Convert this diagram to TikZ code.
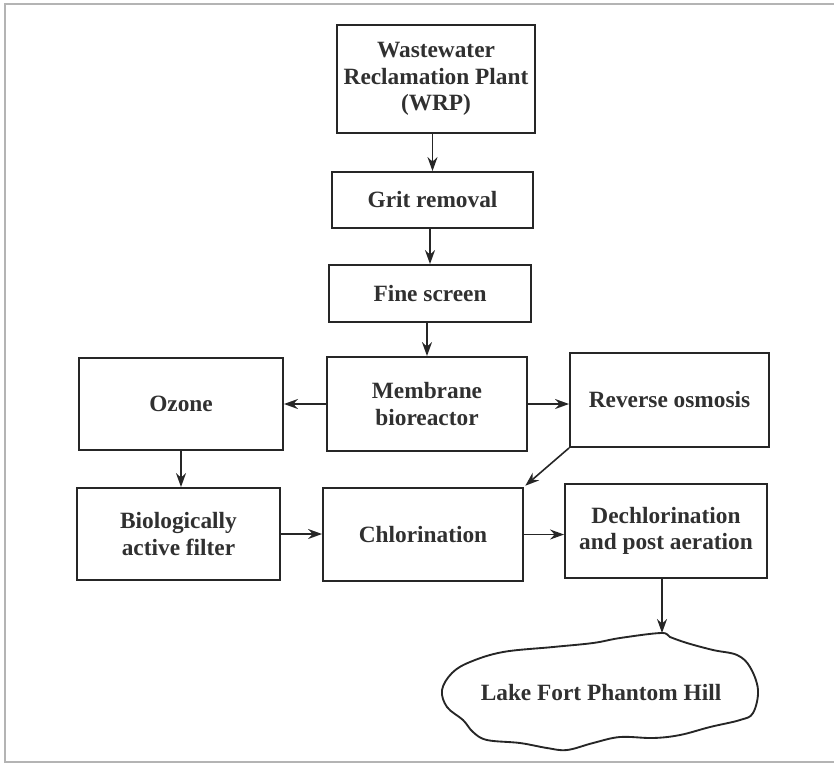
\documentclass[tikz,border=0pt]{standalone}
\usepackage{fontspec}
\setmainfont{Liberation Serif}
\usetikzlibrary{arrows.meta}
\definecolor{ink}{HTML}{262626}
\definecolor{textink}{HTML}{303030}
\definecolor{framegray}{HTML}{B4B4B4}
\begin{document}
\begin{tikzpicture}[x=0.75pt,y=-0.75pt,
  box/.style={draw=ink, line width=1.4pt, align=center, inner sep=0pt,
    font=\fontsize{17.5}{20}\selectfont\bfseries, text=textink},
  flow/.style={draw=ink, line width=1.2pt, -{Stealth[length=10.5pt,width=7.5pt]}},
]
\useasboundingbox (0,0) rectangle (834,765);
% outer frame
\draw[framegray, line width=1.6pt] (840,4) -- (5,4) -- (5,762) -- (840,762);

% process boxes
\node[box, minimum width=148.5pt, minimum height=81pt]   (wrp)     at (436,79)    {Wastewater\\Reclamation Plant\\(WRP)};
\node[box, minimum width=150.75pt, minimum height=42pt]  (grit)    at (432.5,200) {Grit removal};
\node[box, minimum width=151.5pt, minimum height=42.75pt](fine)    at (430,293.5) {Fine screen};
\node[box, minimum width=150pt, minimum height=70.5pt]   (mbr)     at (427,404)   {Membrane\\bioreactor};
\node[box, minimum width=153pt, minimum height=69pt]     (ozone)   at (181,404)   {Ozone};
\node[box, minimum width=149.25pt, minimum height=70.5pt](ro)      at (669.5,400) {Reverse osmosis};
\node[box, minimum width=152.25pt, minimum height=69pt]  (baf)     at (178.5,534) {Biologically\\active filter};
\node[box, minimum width=150pt, minimum height=69.75pt]  (chlor)   at (423,534.5) {Chlorination};
\node[box, minimum width=151.5pt, minimum height=70.5pt] (dechlor) at (666,531)   {Dechlorination\\and post aeration};

% the lake outline
\draw[ink, line width=1.4pt] plot[smooth cycle, tension=0.6] coordinates {
  (661,633) (620,638) (593,643) (553,647) (503,652) (470,662) (452,673)
  (442,690) (447,707) (463,720) (473,732) (487,740) (520,743) (547,748)
  (567,750) (593,743) (620,737) (653,738) (680,735) (710,727) (740,720)
  (753,713) (758,690) (750,667) (737,655) (713,650) (687,643) (670,637)};
\coordinate (laketop) at (662,633);
\node[text=textink, font=\fontsize{17.5}{20}\selectfont\bfseries] (lake) at (601,693) {Lake Fort Phantom Hill};

% connectors
\draw[flow] (grit.north |- wrp.south) -- (grit.north);
\draw[flow] (fine.north |- grit.south) -- (fine.north);
\draw[flow] (mbr.north |- fine.south) -- (mbr.north);
\draw[flow] (mbr.west) -- (ozone.east);
\draw[flow] (mbr.east) -- (mbr.east -| ro.west);
\draw[flow] (ozone.south) -- (ozone.south |- baf.north);
\draw[flow] (baf.east) -- (baf.east -| chlor.west);
\draw[flow] (ro.south west) -- ([xshift=1pt,yshift=1pt]chlor.north east);
\draw[flow] (chlor.east) -- (chlor.east -| dechlor.west);
\draw[flow] (laketop |- dechlor.south) -- (laketop);
\end{tikzpicture}
\end{document}
